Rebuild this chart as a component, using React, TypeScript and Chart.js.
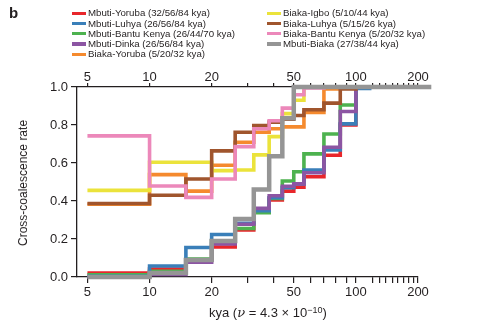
import React, { useEffect, useRef } from 'react';
import { Chart, registerables } from 'chart.js';

Chart.register(...registerables);

// Time-segment starts (kya) shared by all series
const timeBreaks = [5, 10, 15, 20, 26, 32, 38, 44, 50, 56, 70, 84, 100];

// Cross-coalescence rate per time segment
const mbutiYoruba = [0.021, 0.042, 0.088, 0.158, 0.247, 0.343, 0.405, 0.452, 0.472, 0.528, 0.641, 0.8, 1.0];
const mbutiLuhya = [0.004, 0.058, 0.155, 0.224, 0.283, 0.349, 0.417, 0.47, 0.49, 0.563, 0.669, 0.806, 0.993];
const mbutiBantuKenya = [0.011, 0.03, 0.095, 0.19, 0.255, 0.338, 0.414, 0.505, 0.554, 0.648, 0.753, 0.905, 1.0];
const mbutiDinka = [0.0, 0.014, 0.078, 0.174, 0.278, 0.361, 0.428, 0.478, 0.49, 0.549, 0.683, 0.871, 1.0];
const biakaYoruba = [0.383, 0.539, 0.452, 0.588, 0.709, 0.762, 0.78, 0.79, 0.79, 0.866, 0.99, 1.0, 1.0];
const biakaIgbo = [0.456, 0.604, 0.604, 0.56, 0.563, 0.643, 0.739, 0.86, 0.93, 1.0, 1.0, 1.0, 1.0];
const biakaLuhya = [0.387, 0.43, 0.516, 0.664, 0.762, 0.797, 0.815, 0.83, 0.85, 0.88, 0.915, 0.99, 1.0];
const biakaBantuKenya = [0.743, 0.479, 0.419, 0.516, 0.686, 0.78, 0.822, 0.889, 0.959, 0.995, 1.0, 1.0, 1.0];
const mbutiBiaka = [0.0, 0.021, 0.09, 0.19, 0.305, 0.461, 0.635, 0.836, 1.0, 1.0, 1.0, 1.0, 1.0];

const seriesLabels = [
  'Mbuti-Yoruba (32/56/84 kya)',
  'Mbuti-Luhya (26/56/84 kya)',
  'Mbuti-Bantu Kenya (26/44/70 kya)',
  'Mbuti-Dinka (26/56/84 kya)',
  'Biaka-Yoruba (5/20/32 kya)',
  'Biaka-Igbo (5/10/44 kya)',
  'Biaka-Luhya (5/15/26 kya)',
  'Biaka-Bantu Kenya (5/20/32 kya)',
  'Mbuti-Biaka (27/38/44 kya)',
];
const seriesValues = [
  mbutiYoruba, mbutiLuhya, mbutiBantuKenya, mbutiDinka, biakaYoruba,
  biakaIgbo, biakaLuhya, biakaBantuKenya, mbutiBiaka,
];
// last time (kya) each line is drawn to
const seriesEnd = [110, 119, 110, 110, 110, 110, 110, 110, 232];
const seriesColors = [
  '#e8262b', '#3a7fb9', '#4db24f', '#8c55a3', '#f58a2e',
  '#ebe33b', '#a0552d', '#ec88ba', '#959595',
];
// drawing order: lower = on top
const seriesOrder = [9, 7, 8, 6, 5, 4, 3, 2, 1];

const xTickValues = [5, 10, 20, 30, 40, 50, 60, 70, 80, 90, 100, 120, 130, 140, 150, 160, 170, 180, 190, 200];
const xTickLabels = [5, 10, 20, 50, 100, 200];
const X_MIN = 4.45;
const X_MAX = 200;

const INK = '#231f20';
const FONT = "'Liberation Sans', Arial, Helvetica, sans-serif";

export default function App() {
  const canvasRef = useRef<HTMLCanvasElement | null>(null);

  useEffect(() => {
    const canvas = canvasRef.current;
    if (!canvas) return;

    const datasets = seriesValues.map((vals, i) => {
      const pts = timeBreaks.map((t, k) => ({ x: t, y: vals[k] }));
      pts.push({ x: seriesEnd[i], y: vals[vals.length - 1] });
      return {
        label: seriesLabels[i],
        data: pts,
        borderColor: seriesColors[i],
        backgroundColor: seriesColors[i],
        borderWidth: i === 8 ? 4.5 : 3.6,
        pointRadius: 0,
        stepped: true,
        fill: false,
        order: seriesOrder[i],
        clip: { left: 5, top: 5, right: 20, bottom: 5 },
        borderCapStyle: 'butt',
        borderJoinStyle: 'miter',
      };
    });

    const tickFont = { family: FONT, size: 13 };
    const logAxis = (position: 'top' | 'bottom', height: number, tickLen: number, pad: number) => ({
      type: 'logarithmic',
      position,
      min: X_MIN,
      max: X_MAX,
      afterBuildTicks: (scale: any) => {
        scale.ticks = xTickValues.map((v) => ({ value: v }));
      },
      afterFit: (scale: any) => {
        scale.height = height;
      },
      ticks: {
        autoSkip: false,
        maxRotation: 0,
        minRotation: 0,
        color: INK,
        font: tickFont,
        padding: pad,
        callback: (value: any) => (xTickLabels.includes(Number(value)) ? String(value) : ''),
      },
      grid: {
        display: true,
        drawOnChartArea: false,
        drawTicks: true,
        tickLength: tickLen,
        color: INK,
        lineWidth: 1.2,
      },
      border: { display: true, color: INK, width: 1.3 },
    });

    const chart = new Chart(canvas, {
      type: 'line',
      data: { datasets: datasets as any },
      options: {
        responsive: false,
        animation: false,
        devicePixelRatio: 1,
        layout: { padding: { left: 0, right: 66, top: 0, bottom: 0 } },
        plugins: { legend: { display: false }, tooltip: { enabled: false } },
        scales: {
          x: logAxis('bottom', 57, 6, 2),
          x2: logAxis('top', 87, 4, -2),
          y: {
            type: 'linear',
            position: 'left',
            min: 0,
            max: 1,
            afterFit: (scale: any) => {
              scale.width = 77;
            },
            ticks: {
              stepSize: 0.2,
              color: INK,
              font: tickFont,
              padding: 3,
              callback: (v: any) => Number(v).toFixed(1),
            },
            grid: {
              display: true,
              drawOnChartArea: false,
              drawTicks: true,
              tickLength: 6,
              color: INK,
              lineWidth: 1.2,
            },
            border: { display: true, color: INK, width: 1.3 },
          },
        } as any,
      },
    });
    return () => chart.destroy();
  }, []);

  const col1 = [0, 1, 2, 3, 4];
  const col2 = [5, 6, 7, 8];
  const legendItem = (idx: number, row: number, swatchX: number) => (
    <div
      key={idx}
      style={{
        position: 'absolute',
        left: swatchX,
        top: 13.3 + row * 10.25 - 6,
        height: 12,
        display: 'flex',
        alignItems: 'center',
        whiteSpace: 'nowrap',
      }}
    >
      <span style={{ display: 'inline-block', width: 14, height: 3.2, background: seriesColors[idx], marginRight: 2 }} />
      <span style={{ fontSize: 9.7, color: INK, lineHeight: '12px' }}>{seriesLabels[idx]}</span>
    </div>
  );

  return (
    <div
      style={{
        position: 'absolute',
        left: 0,
        top: 0,
        width: 484,
        height: 334,
        background: '#fff',
        fontFamily: FONT,
        overflow: 'hidden',
      }}
    >
      <canvas ref={canvasRef} width={484} height={334} style={{ position: 'absolute', left: 0, top: 0, width: 484, height: 334 }} />
      <div style={{ position: 'absolute', left: 9, top: 4, fontSize: 15, fontWeight: 'bold', color: INK }}>b</div>
      {col1.map((idx, r) => legendItem(idx, r, 72))}
      {col2.map((idx, r) => legendItem(idx, r, 267))}
      <div
        style={{
          position: 'absolute',
          left: 23,
          top: 183,
          transform: 'translate(-50%, -50%) rotate(-90deg)',
          fontSize: 12,
          color: INK,
          whiteSpace: 'nowrap',
        }}
      >
        Cross-coalescence rate
      </div>
      <div
        style={{
          position: 'absolute',
          left: 209,
          top: 305,
          fontSize: 13,
          color: INK,
          whiteSpace: 'nowrap',
          lineHeight: '16px',
        }}
      >
        kya (<i style={{ fontFamily: "'DejaVu Serif', serif" }}>ν</i> = 4.3 × 10
        <sup style={{ fontSize: 9, verticalAlign: 'top', position: 'relative', top: -3 }}>−10</sup>)
      </div>
    </div>
  );
}
